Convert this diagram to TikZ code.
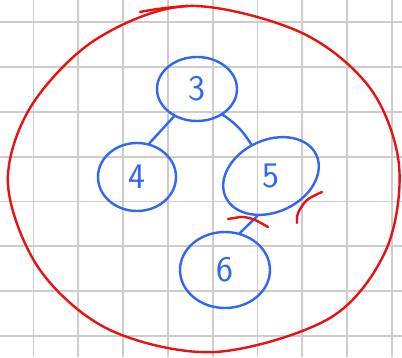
\documentclass[tikz,border=0pt]{standalone}
\usetikzlibrary{shapes.geometric}
\definecolor{pen}{RGB}{50,102,240}
\definecolor{redpen}{RGB}{236,16,16}
\definecolor{gridc}{RGB}{204,204,204}
\begin{document}
\begin{tikzpicture}[x=1pt,y=-1pt,
  gridline/.style={gridc,line width=1.8pt},
  blob/.style={ellipse,draw=pen,line width=2.4pt,text=pen,
    font=\sffamily\fontsize{36}{36}\selectfont,inner sep=0pt},
  edgeline/.style={pen,line width=2.4pt,line cap=round},
  redstroke/.style={redpen,line width=2.4pt,line cap=round,line join=round}]
\useasboundingbox (0,0) rectangle (402,357);
\fill[white] (0,0) rectangle (402,357);
% grid
\foreach \gx in {33.5,78.3,123.1,167.9,212.7,257.5,302.3,347.1,391.9}
  \draw[gridline] (\gx,0) -- (\gx,357);
\foreach \gy in {22.3,67.1,111.9,156.7,201.5,246.3,291.1,335.9}
  \draw[gridline] (0,\gy) -- (402,\gy);
% nodes
\node[blob,minimum width=80pt,minimum height=64pt] (n3) at (197,89) {3};
\node[blob,minimum width=78pt,minimum height=68pt] (n4) at (137,177) {4};
\node[blob,minimum width=100pt,minimum height=72pt,rotate=25] (n5) at (271,176) {\rotatebox{-25}{5}};
\node[blob,minimum width=90pt,minimum height=76pt] (n6) at (225,270) {6};
% edges
\draw[edgeline] (n3.230) -- (n4.70);
\draw[edgeline] (n3.-45) to[bend left=12] (n5.97);
\draw[edgeline] (n5.226) -- (n6.68);
% red marks
\draw[redstroke] plot[smooth] coordinates {(228,219) (243,217) (255,220) (268,227)};
\draw[redstroke] plot[smooth] coordinates {(297,223) (298,213) (307,200) (322,192)};
% big red loop
\draw[redstroke] plot[smooth cycle,tension=0.55] coordinates {
  (188,6) (300,32) (370,88) (399,165) (386,250) (330,318) (215,352)
  (110,330) (40,270) (8,185) (30,108) (95,40)};
\draw[redstroke] (140,12) .. controls (160,8) and (175,7) .. (188,6);
\end{tikzpicture}
\end{document}
